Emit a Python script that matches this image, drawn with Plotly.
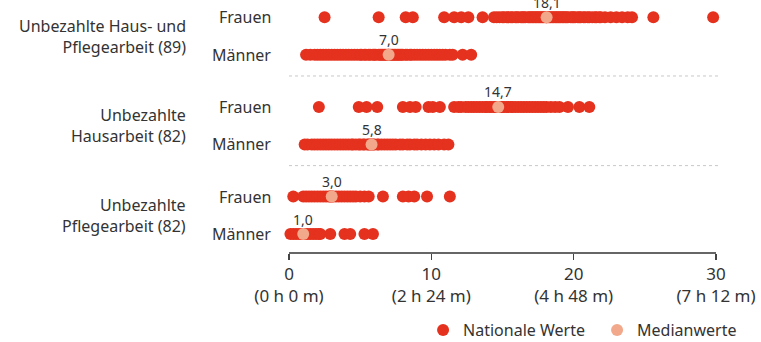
import plotly.graph_objects as go

# ---- data ----
groups = ["Unbezahlte Haus- und<br>Pflegearbeit (89)",
          "Unbezahlte<br>Hausarbeit (82)",
          "Unbezahlte<br>Pflegearbeit (82)"]
sexes = ["Frauen", "Männer"]

haus_pflege_frauen = [2.5, 6.3, 8.2, 8.7, 10.9, 11.6, 12.1, 12.6, 13.6,
    14.4, 14.6, 14.8, 15.0, 15.1, 15.3, 15.4, 15.6, 15.7, 15.9, 16.0, 16.1, 16.3, 16.4,
    16.5, 16.6, 16.8, 16.9, 17.0, 17.1, 17.2, 17.3, 17.4, 17.5, 17.6, 17.7, 17.8, 17.9,
    18.0, 18.1, 18.1, 18.2, 18.3, 18.4, 18.5, 18.6, 18.7, 18.8, 18.9, 19.0, 19.1, 19.2,
    19.3, 19.4, 19.5, 19.6, 19.8, 19.9, 20.0, 20.1, 20.3, 20.4, 20.5, 20.7, 20.8, 21.0,
    21.1, 21.3, 21.5, 21.6, 21.8, 21.9,
    22.2, 22.6, 23.0, 23.4, 23.8, 24.1, 25.6, 29.8]
haus_pflege_maenner = [1.2, 1.5, 1.8, 2.0, 2.2, 2.4, 2.6, 2.8, 3.0, 3.2, 3.4, 3.6, 3.8,
    4.0, 4.2, 4.4, 4.6, 4.8, 5.0, 5.1, 5.3, 5.4, 5.6, 5.7, 5.9, 6.0, 6.1, 6.3, 6.4, 6.5,
    6.6, 6.7, 6.8, 6.9, 7.0, 7.0, 7.1, 7.2, 7.3, 7.4, 7.5, 7.6, 7.7, 7.8, 7.9, 8.0, 8.2,
    8.3, 8.5, 8.6, 8.8, 9.0, 9.2, 9.4, 9.6, 9.8, 10.0, 10.2, 10.4, 10.6, 10.8, 11.0, 11.3,
    11.5, 12.2, 12.8]
haus_frauen = [2.1, 4.9, 5.45, 6.2, 8.0, 8.5, 8.9, 9.8, 10.1, 10.6,
    11.6, 11.9, 12.1, 12.4, 12.6, 12.8, 13.0, 13.2, 13.4, 13.6, 13.8, 13.9, 14.1, 14.2,
    14.4, 14.5, 14.6, 14.7, 14.8, 14.9, 15.0, 15.1, 15.3, 15.4, 15.6, 15.7, 15.9, 16.1,
    16.3, 16.5, 16.7, 16.9, 17.1, 17.3, 17.5, 17.7, 17.9, 18.1, 18.4, 18.7, 19.0,
    19.6, 20.4, 21.1]
haus_maenner = [1.1, 1.3, 1.6, 1.8, 2.0, 2.2, 2.4, 2.6, 2.8, 3.0, 3.2, 3.4, 3.6, 3.8,
    4.0, 4.2, 4.4, 4.5, 4.7, 4.9, 5.0, 5.2, 5.3, 5.5, 5.6, 5.7, 5.8, 5.9, 6.0, 6.2, 6.3,
    6.5, 6.7, 6.9, 7.1, 7.3, 7.5, 7.8, 8.0, 8.3, 8.5, 8.8, 9.0, 9.3, 9.6, 9.9, 10.2,
    10.5, 10.9, 11.2]
pflege_frauen = [0.3, 1.0, 1.2, 1.4, 1.6, 1.8, 2.0, 2.2, 2.4, 2.6, 2.8, 2.9, 3.0, 3.1,
    3.3, 3.5, 3.7, 3.9, 4.1, 4.3, 4.5, 4.7, 5.0, 5.3, 5.6, 6.6, 8.0, 8.4, 8.8, 9.7, 11.3]
pflege_maenner = [0.1, 0.3, 0.5, 0.7, 0.9, 1.0, 1.1, 1.3, 1.5, 1.7, 1.9, 2.1, 2.2,
    2.9, 3.9, 4.3, 5.3, 5.9]

medians = [18.1, 7.0, 14.7, 5.8, 3.0, 1.0]
median_labels = ["18,1", "7,0", "14,7", "5,8", "3,0", "1,0"]

tick_vals = [0, 10, 20, 30]
tick_text = ["0<br>(0 h 0 m)", "10<br>(2 h 24 m)", "20<br>(4 h 48 m)", "30<br>(7 h 12 m)"]

# ---- layout helpers ----
RED = "#e4321f"
SALMON = "#f2a88a"
TXT = "#333333"
FONT = "Noto Sans"

rows = [haus_pflege_frauen, haus_pflege_maenner, haus_frauen, haus_maenner,
        pflege_frauen, pflege_maenner]
row_pos = [0, 1, 2.39, 3.39, 4.78, 5.78]
sep_pos = [1.565, 3.955]

xs, ys = [], []
for vals, p in zip(rows, row_pos):
    xs += vals
    ys += [p] * len(vals)

fig = go.Figure()
fig.add_trace(go.Scatter(x=xs, y=ys, mode="markers", name="Nationale Werte",
                         marker=dict(color=RED, size=12, line=dict(width=0)),
                         cliponaxis=False, hoverinfo="skip"))
fig.add_trace(go.Scatter(x=medians, y=row_pos, mode="markers", name="Medianwerte",
                         marker=dict(color=SALMON, size=12, line=dict(width=0)),
                         cliponaxis=False, hoverinfo="skip"))

annotations = []
for m, lab, p in zip(medians, median_labels, row_pos):
    annotations.append(dict(x=m, y=p, text=lab, showarrow=False, yshift=15,
                            font=dict(size=14, color=TXT, family=FONT)))
for i, p in enumerate(row_pos):
    annotations.append(dict(x=0, xref="paper", y=p, text=sexes[i % 2], showarrow=False,
                            xanchor="right", xshift=-16,
                            font=dict(size=16, color=TXT, family=FONT)))
for g, lab in enumerate(groups):
    annotations.append(dict(x=0, xref="paper", y=(row_pos[2 * g] + row_pos[2 * g + 1]) / 2,
                            text=lab, showarrow=False, xanchor="right", align="right",
                            xshift=-101, font=dict(size=16, color=TXT, family=FONT)))

shapes = [dict(type="line", xref="paper", x0=0, x1=1.005, y0=s, y1=s,
               line=dict(color="#c8c8c8", width=1, dash="dot")) for s in sep_pos]

fig.update_layout(
    width=761, height=342,
    margin=dict(l=289, r=45, t=0, b=90, autoexpand=False),
    plot_bgcolor="white", paper_bgcolor="white",
    font=dict(family=FONT, size=16, color=TXT),
    showlegend=True,
    hovermode=False,
    legend=dict(orientation="h", x=0.314, xanchor="left", y=-0.31, yanchor="middle",
                font=dict(size=16, color=TXT, family=FONT), itemwidth=30,
                entrywidth=129, entrywidthmode="pixels"),
    annotations=annotations,
    shapes=shapes,
    xaxis=dict(range=[0, 30], tickvals=tick_vals, ticktext=tick_text, automargin=False,
               showgrid=False, zeroline=False, showline=True, linecolor="#666666",
               linewidth=1.5, ticks="outside", ticklen=6, tickcolor="#444444",
               tickwidth=1.5, tickfont=dict(size=17, color=TXT, family=FONT)),
    yaxis=dict(range=[6.259, -0.461], showgrid=False, zeroline=False, automargin=False,
               showticklabels=False, showline=False),
)

fig.write_html("out.html", config={"displayModeBar": False, "staticPlot": True},
               post_script="document.body.style.margin='0';document.body.style.padding='0';")
